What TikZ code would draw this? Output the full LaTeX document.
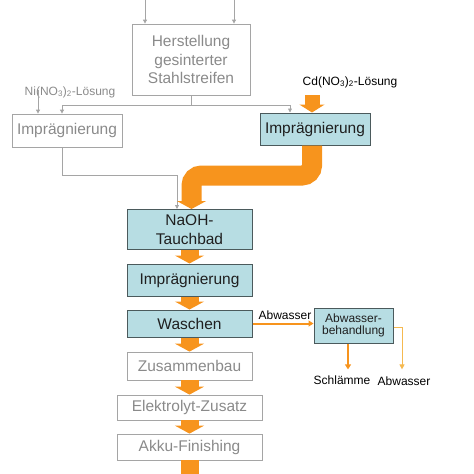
\documentclass[tikz,border=0pt]{standalone}
\usepackage{fontspec}
\setmainfont{Liberation Sans}
\usetikzlibrary{arrows.meta}
\definecolor{boxfill}{RGB}{183,221,227}
\definecolor{boxline}{RGB}{75,90,92}
\definecolor{flow}{RGB}{247,148,29}
\definecolor{flowlight}{RGB}{245,185,80}
\definecolor{grayline}{RGB}{165,165,165}
\definecolor{graytext}{RGB}{138,138,138}
\begin{document}
\begin{tikzpicture}[x=1pt,y=-1pt,
  bigfont/.style={font=\fontsize{15.5}{18.5}\selectfont},
  smallfont/.style={font=\fontsize{12}{14}\selectfont},
  active/.style={draw=boxline, fill=boxfill, line width=1pt, bigfont, text=black!88, align=center, inner sep=0pt},
  passive/.style={draw=grayline, line width=0.8pt, bigfont, text=graytext, align=center, inner sep=0pt},
  lbl/.style={smallfont, inner sep=0pt},
  graylbl/.style={smallfont, text=graytext, inner sep=0pt},
  bigflow/.style={draw=flow, line width=18pt, -{Triangle[width=29pt 0,length=8pt 0]}},
  medflow/.style={draw=flow, line width=2pt, -{Triangle[width=6pt 0,length=5pt 0]}},
  thinflow/.style={draw=flowlight, line width=1pt, -{Triangle[width=5pt 0,length=5pt 0]}},
  grayarrow/.style={draw=grayline, line width=0.8pt, -{Triangle[width=4pt 0,length=4pt 0]}},
  grayline/.style={draw=grayline, line width=0.8pt}
]
\useasboundingbox (0,0) rectangle (474,474);

% nodes
\node[passive, minimum width=118pt, minimum height=71pt] (herst) at (191,59.5) {Herstellung\\gesinterter\\Stahlstreifen};
\node[graylbl] (ni) at (70,92) {Ni(NO\textsubscript{3})\textsubscript{2}-Lösung};
\node[lbl] (cd) at (350,82) {Cd(NO\textsubscript{3})\textsubscript{2}-Lösung};
\node[passive, minimum width=110pt, minimum height=33pt] (impr1) at (67,130.5) {Imprägnierung};
\node[active, minimum width=110pt, minimum height=32pt] (impr2) at (315,129) {Imprägnierung};
\node[active, minimum width=125pt, minimum height=40pt] (naoh) at (189.5,229.5) {NaOH-\\Tauchbad};
\node[active, minimum width=125pt, minimum height=32pt] (impr3) at (189.5,280) {Imprägnierung};
\node[active, minimum width=125pt, minimum height=27pt] (wasch) at (189.5,323.5) {Waschen};
\node[passive, minimum width=125pt, minimum height=28pt] (zus) at (189.5,366) {Zusammenbau};
\node[passive, minimum width=145pt, minimum height=25pt] (elek) at (189.5,407.5) {Elektrolyt-Zusatz};
\node[passive, minimum width=145pt, minimum height=26pt] (akku) at (189.5,447) {Akku-Finishing};
\node[active, smallfont, minimum width=79pt, minimum height=35pt, align=center] (abw) at (353.5,325.5) {Abwasser-\\[-1.5pt]behandlung};
\node[lbl] (wlbl) at (285,315) {Abwasser};
\node[lbl] (schl) at (342,380) {Schlämme};
\node[lbl] (abw2) at (404,381) {Abwasser};

% free ends
\coordinate (in1) at (145,-3);
\coordinate (in2) at (234,-3);
\coordinate (out) at (189.5,490);
\coordinate (cdstart) at (312,95);

% gray connectors
\draw[grayarrow] (in1) -- (in1 |- herst.north);
\draw[grayarrow] (in2) -- (in2 |- herst.north);
\draw[grayline] (herst.south) -- ++(0,9.5) coordinate (j);
\draw[grayarrow] (j) -| ([xshift=-5pt]impr1.north);
\draw[grayarrow] (j) -| ([xshift=-25pt]impr2.north);
\draw[grayarrow] ([xshift=-29pt,yshift=8pt]impr1.north |- ni.south) -- ([xshift=-29pt]impr1.north);
\draw[grayarrow] ([xshift=-5pt]impr1.south) -- ++(0,27.5) -| ([xshift=-12.5pt]naoh.north);

% orange flows
\draw[bigflow, line width=15pt, -{Triangle[width=25pt 0,length=8pt 0]}] (cdstart) -- (cdstart |- impr2.north);
\draw[bigflow, line width=20pt, rounded corners=10pt] ([xshift=-3pt]impr2.south) -- ++(0,30) -| ([xshift=2pt]naoh.north);
\draw[bigflow] (naoh.south) -- (impr3.north);
\draw[bigflow] (impr3.south) -- (wasch.north);
\draw[bigflow] (wasch.south) -- (zus.north);
\draw[bigflow] (zus.south) -- (elek.north);
\draw[bigflow] (elek.south) -- (akku.north);
\draw[bigflow] (akku.south) -- (out);
\draw[medflow] (wasch.east) -- (wasch.east -| abw.west);
\draw[medflow, shorten >=6pt] ([xshift=-5.5pt]abw.south) -- ([xshift=-5.5pt]abw.south |- schl.north);
\draw[thinflow, shorten >=7pt] ([yshift=-2pt]abw.east) -| ([xshift=-2pt]abw2.north);
\end{tikzpicture}
\end{document}
